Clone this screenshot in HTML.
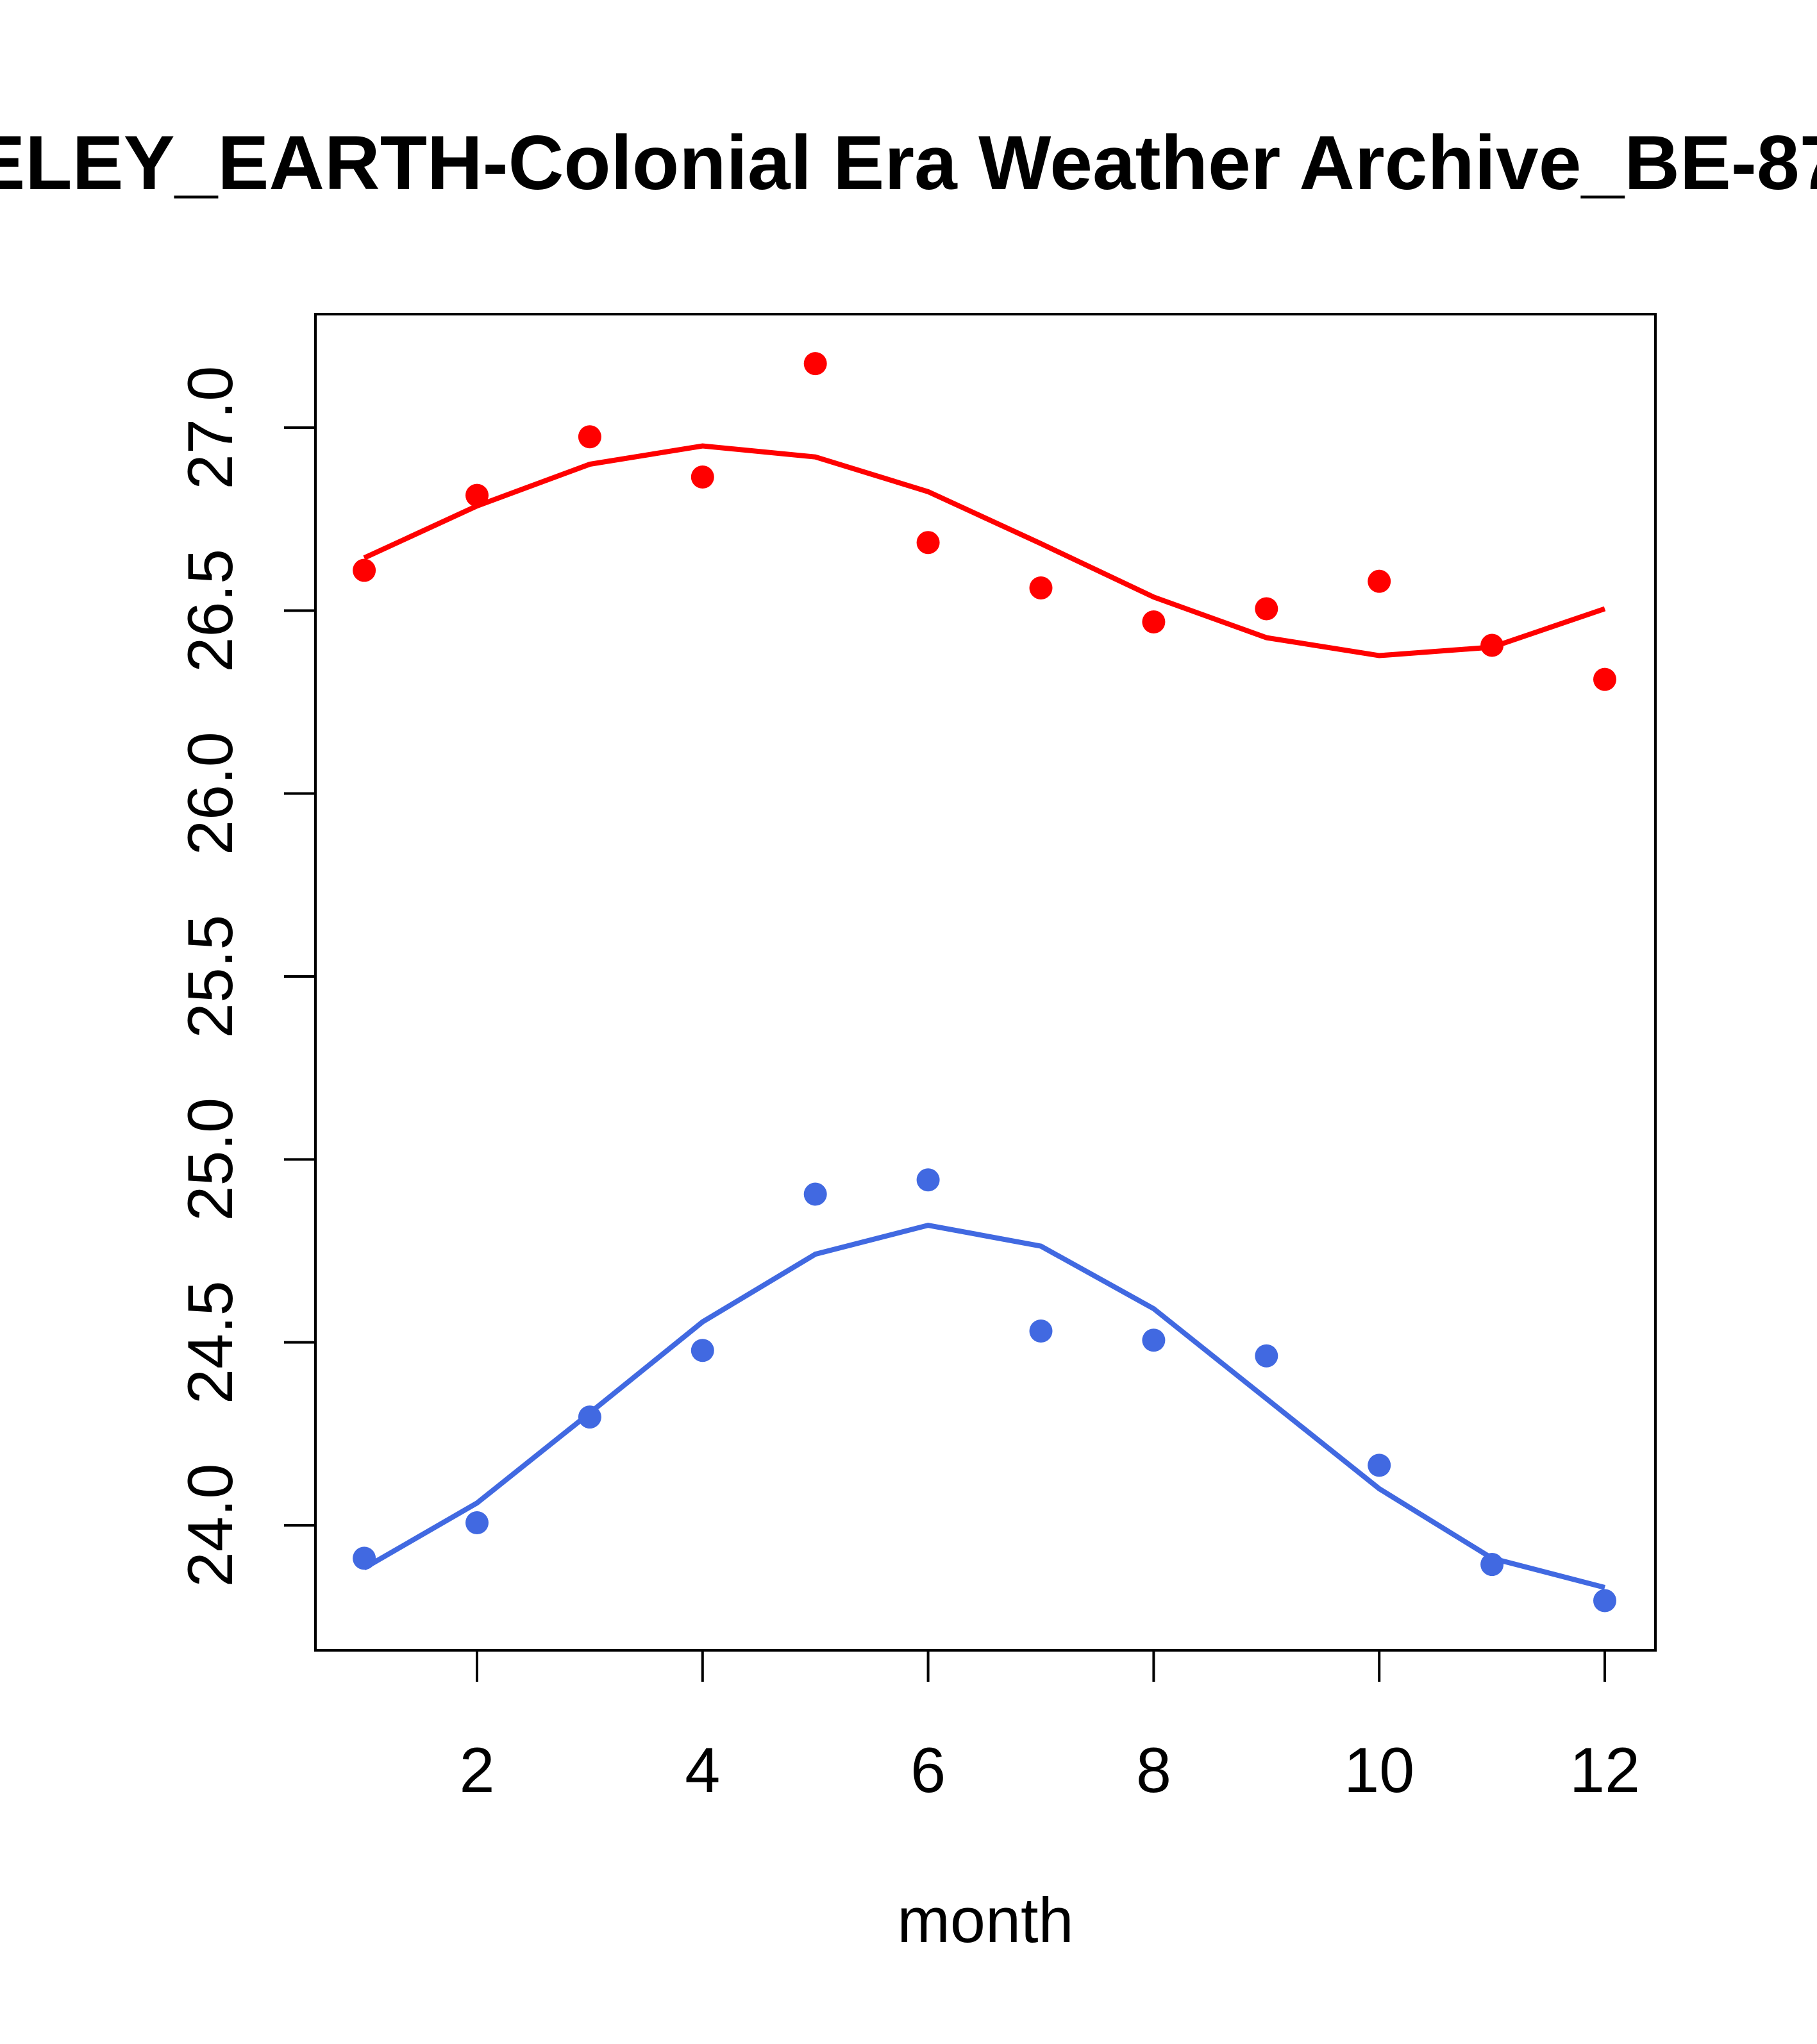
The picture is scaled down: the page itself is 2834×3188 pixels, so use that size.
<!DOCTYPE html>
<html><head><meta charset="utf-8">
<style>html,body{margin:0;padding:0;background:#fff;}svg{display:block;}</style>
</head><body>
<svg id="chart" width="2834" height="3188" viewBox="0 0 2834 3188" xmlns="http://www.w3.org/2000/svg" font-family="'Liberation Sans', sans-serif">
<rect width="2834" height="3188" fill="#fff"/>
<text x="1313" y="295" font-size="120" font-weight="bold" text-anchor="middle">BERKELEY_EARTH-Colonial Era Weather Archive_BE-8700</text>
<rect x="492" y="490" width="2090" height="2084" fill="none" stroke="#000" stroke-width="4"/>
<text x="1537" y="3029" font-size="99" text-anchor="middle">month</text>
<g id="axes"></g>
<g id="marks"></g>
</svg>
<script>
const months = [1,2,3,4,5,6,7,8,9,10,11,12];
const redPoints = [26.61,26.815,26.975,26.865,27.175,26.686,26.562,26.469,26.505,26.58,26.405,26.312];
const redLine = [26.644,26.786,26.90,26.95,26.92,26.825,26.683,26.537,26.426,26.377,26.40,26.505];
const bluePoints = [23.91,24.007,24.296,24.478,24.905,24.944,24.531,24.506,24.463,24.164,23.893,23.794];
const blueLine = [23.883,24.061,24.307,24.556,24.741,24.82,24.763,24.592,24.346,24.10,23.91,23.83];
const xTicks = [2,4,6,8,10,12];
const yTicks = ["24.0","24.5","25.0","25.5","26.0","26.5","27.0"];

const NS = "http://www.w3.org/2000/svg";
const xs = m => 744 + (m - 2) * (2503 - 744) / 10;
const ys = v => 2379 - (v - 24) * (2379 - 667) / 3;
const axes = document.getElementById('axes');
const marks = document.getElementById('marks');
function mk(tag, attrs, parent) {
  const e = document.createElementNS(NS, tag);
  for (const k in attrs) e.setAttribute(k, attrs[k]);
  parent.appendChild(e);
  return e;
}
xTicks.forEach(t => {
  const l = mk('line', {x1: xs(t), x2: xs(t), y1: 2574, y2: 2623, stroke: '#000', 'stroke-width': 4}, axes);
  
  
  const tx = mk('text', {x: xs(t), y: 2795, 'font-size': 99, 'text-anchor': 'middle'}, axes);
  tx.textContent = t;
  
  
});
yTicks.forEach(t => {
  const y = ys(parseFloat(t));
  const l = mk('line', {x1: 443, x2: 492, y1: y, y2: y, stroke: '#000', 'stroke-width': 4}, axes);
  
  
  const tx = mk('text', {x: 362, y: y, 'font-size': 99, 'text-anchor': 'middle', transform: `rotate(-90 362 ${y})`}, axes);
  tx.textContent = t;
  
  
});
function series(pts, line, color, name) {
  const p = mk('polyline', {points: months.map((m, i) => xs(m) + ',' + ys(line[i])).join(' '), fill: 'none', stroke: color, 'stroke-width': 8}, marks);
  
  
  months.forEach((m, i) => {
    const c = mk('circle', {cx: xs(m), cy: ys(pts[i]), r: 18, fill: color}, marks);
    
    
  });
}
series(redPoints, redLine, '#FF0000', 'max-temp');
series(bluePoints, blueLine, '#4169E1', 'min-temp');
</script>
</body></html>
